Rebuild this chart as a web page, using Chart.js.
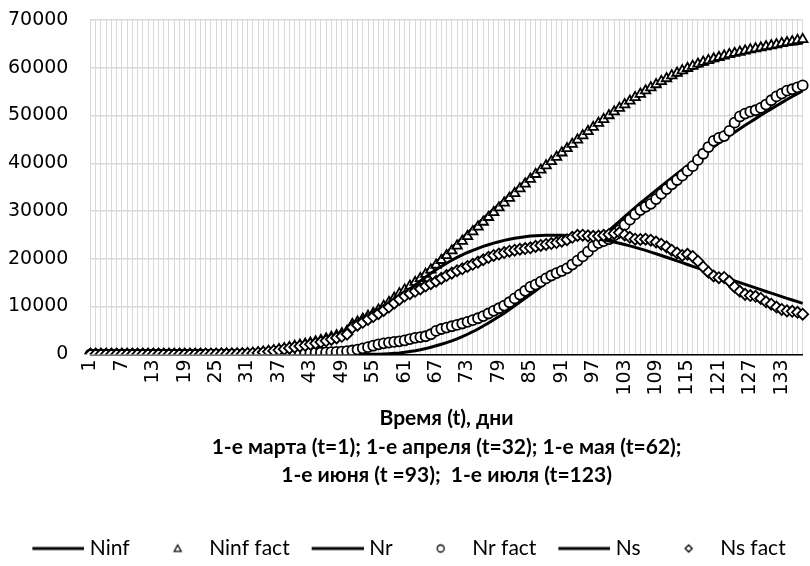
<!DOCTYPE html>
<html lang="ru">
<head>
<meta charset="UTF-8">
<title>Ninf / Nr / Ns</title>
<style>
    body, html {
        margin: 0;
        padding: 0;
        background: #fff;
        overflow: hidden;
    }
    .chart-box {
        width: 810px;
        height: 566px;
        position: relative;
    }
</style>
</head>
<body>
<div class="chart-box">
    <canvas id="myChart"></canvas>
</div>

<script src="https://cdn.jsdelivr.net/npm/chart.js"></script>
<script>

// дни с 1 марта (t=1)
const days = Array.from({ length: 137 }, (_, i) => i + 1);

const yTicks = [0, 10000, 20000, 30000, 40000, 50000, 60000, 70000];

// модельные кривые
const ninf = [
    0, 0, 0, 0, 0, 0, 0, 0, 0, 0,
    0, 0, 0, 0, 0, 0, 0, 0, 0, 0,
    0, 0, 0, 0, 0, 0, 0, 0, 10, 20,
    40, 70, 110, 160, 230, 320, 430, 570, 740, 940,
    1170, 1430, 1720, 2040, 2400, 2800, 3240, 3720, 4240, 4800,
    5400, 6040, 6720, 7440, 8180, 8960, 9760, 10600, 11470, 12370,
    13300, 14250, 15220, 16210, 17210, 18220, 19240, 20260, 21280, 22300,
    23330, 24360, 25380, 26390, 27390, 28400, 29400, 30390, 31370, 32340,
    33320, 34290, 35250, 36200, 37140, 38070, 38990, 39900, 40800, 41690,
    42570, 43440, 44300, 45150, 45980, 46800, 47610, 48400, 49180, 49940,
    50690, 51420, 52140, 52840, 53520, 54190, 54840, 55470, 56080, 56670,
    57320, 57850, 58360, 58850, 59320, 59770, 60200, 60610, 61000, 61370,
    61720, 62050, 62360, 62650, 62920, 63180, 63420, 63650, 63860, 64060,
    64250, 64430, 64600, 64760, 64910, 65050, 65180
];

const nr = [
    0, 0, 0, 0, 0, 0, 0, 0, 0, 0,
    0, 0, 0, 0, 0, 0, 0, 0, 0, 0,
    0, 0, 0, 0, 0, 0, 0, 0, 0, 0,
    0, 0, 0, 0, 0, 0, 0, 0, 0, 0,
    0, 0, 0, 0, 0, 0, 0, 0, 0, 0,
    0, 0, 0, 0, 0, 30, 70, 130, 210, 300,
    420, 570, 740, 950, 1200, 1480, 1780, 2100, 2440, 2800,
    3240, 3700, 4200, 4730, 5300, 5930, 6570, 7230, 7910, 8600,
    9370, 10150, 10930, 11720, 12510, 13300, 14170, 15050, 15920, 16800,
    17700, 18600, 19500, 20400, 21300, 22220, 23140, 24060, 24980, 25900,
    26880, 27850, 28810, 29760, 30700, 31630, 32550, 33450, 34340, 35220,
    36090, 36950, 37800, 38640, 39470, 40290, 41100, 41900, 42690, 43470,
    44240, 45000, 45750, 46490, 47220, 47940, 48650, 49350, 50040, 50720,
    51390, 52050, 52700, 53340, 53970, 54590, 55200
];

const ns = [
    0, 0, 0, 0, 0, 0, 0, 0, 0, 0,
    0, 0, 0, 0, 0, 0, 0, 0, 0, 0,
    0, 0, 0, 0, 0, 0, 0, 0, 10, 20,
    40, 70, 110, 160, 220, 310, 420, 550, 710, 900,
    1110, 1350, 1620, 1920, 2260, 2640, 3060, 3510, 3990, 4600,
    5200, 5850, 6500, 7150, 7800, 8600, 9450, 10300, 11150, 12000,
    12850, 13700, 14550, 15380, 16200, 16980, 17720, 18420, 19080, 19700,
    20280, 20820, 21320, 21780, 22200, 22590, 22950, 23280, 23580, 23850,
    24090, 24300, 24480, 24630, 24750, 24840, 24900, 24940, 24950, 24940,
    24910, 24860, 24790, 24700, 24590, 24460, 24310, 24140, 23950, 23740,
    23510, 23260, 22990, 22700, 22400, 22080, 21750, 21410, 21060, 20700,
    20330, 19950, 19570, 19190, 18810, 18430, 18050, 17670, 17290, 16910,
    16530, 16150, 15770, 15390, 15010, 14640, 14270, 13900, 13530, 13160,
    12800, 12440, 12080, 11720, 11370, 11020, 10670
];

// фактические данные
const ninfFact = [
    0, 0, 0, 0, 0, 0, 0, 0, 0, 0,
    0, 0, 0, 0, 0, 1, 2, 3, 5, 8,
    10, 13, 17, 22, 28, 35, 45, 57, 72, 90,
    150, 220, 320, 450, 620, 800, 1000, 1220, 1460, 1720,
    1950, 2150, 2400, 2650, 2950, 3250, 3600, 3950, 4350, 4850,
    6300, 6800, 7400, 8000, 8600, 9300, 10100, 10900, 11800, 12700,
    13500, 14300, 15100, 15900, 16800, 17700, 18700, 19700, 20700, 21700,
    22700, 23700, 24700, 25700, 26700, 27700, 28700, 29700, 30700, 31700,
    32700, 33700, 34700, 35700, 36700, 37700, 38600, 39500, 40400, 41300,
    42200, 43100, 44000, 44900, 45800, 46700, 47550, 48400, 49200, 50000,
    50800, 51550, 52300, 53050, 53800, 54500, 55200, 55850, 56500, 57150,
    57750, 58350, 58900, 59400, 59900, 60350, 60800, 61200, 61550, 61900,
    62200, 62500, 62800, 63050, 63300, 63550, 63800, 64000, 64200, 64450,
    64650, 64850, 65100, 65300, 65500, 65750, 65950
];

const nrFact = [
    0, 0, 0, 0, 0, 0, 0, 0, 0, 0,
    0, 0, 0, 0, 0, 0, 0, 0, 0, 0,
    0, 0, 0, 0, 0, 0, 0, 0, 0, 0,
    0, 0, 0, 0, 50, 100, 120, 150, 180, 210,
    240, 270, 300, 340, 380, 420, 470, 520, 580, 650,
    800, 1000, 1250, 1500, 1800, 2100, 2300, 2450, 2600, 2730,
    2900, 3200, 3450, 3600, 3780, 4200, 4900, 5300, 5600, 5880,
    6150, 6450, 6800, 7150, 7550, 8000, 8550, 9100, 9650, 10200,
    10900, 11700, 12500, 13300, 14100, 14600, 15200, 15900, 16500, 17000,
    17450, 18000, 18800, 19600, 20500, 21500, 22600, 23300, 23700, 24100,
    24900, 26000, 27100, 28200, 29300, 30200, 30900, 31500, 32500, 33600,
    34600, 35600, 36500, 37400, 38400, 39400, 40700, 42000, 43400, 44700,
    45300, 45700, 46800, 48500, 49800, 50400, 50800, 51100, 51600, 52300,
    53200, 54000, 54600, 55200, 55500, 55900, 56300
];

const nsFact = [
    0, 0, 0, 0, 0, 0, 0, 0, 0, 0,
    0, 0, 0, 0, 0, 1, 2, 3, 5, 8,
    10, 13, 17, 22, 28, 35, 45, 57, 72, 90,
    150, 220, 310, 430, 570, 700, 880, 1070, 1280, 1510,
    1710, 1880, 2100, 2310, 2570, 2830, 3130, 3430, 3770, 4200,
    5600, 6100, 6700, 7300, 7900, 8500, 9200, 9900, 10700, 11500,
    12200, 12700, 13200, 13700, 14300, 14800, 15300, 15900, 16500, 17000,
    17500, 17900, 18400, 18850, 19300, 19800, 20300, 20700, 21000, 21300,
    21600, 21800, 22000, 22150, 22300, 22600, 22800, 23000, 23200, 23400,
    23700, 24000, 24500, 24900, 24950, 24800, 24700, 24750, 24900, 25100,
    25300, 25500, 25000, 24500, 24100, 24050, 24100, 23900, 23500, 23050,
    22500, 21800, 21200, 20700, 20950, 20500, 19500, 18300, 17200, 16400,
    16050, 16100, 15300, 14100, 13200, 12550, 12300, 12150, 11700, 11000,
    10500, 9900, 9400, 9100, 9000, 8800, 8400
];

const seriesNames = ['Ninf', 'Ninf fact', 'Nr', 'Nr fact', 'Ns', 'Ns fact'];

const axisTitle = [
    'Время (t), дни',
    '1-е марта (t=1); 1-е апреля (t=32); 1-е мая (t=62);',
    '1-е июня (t =93);  1-е июля (t=123)'
];

// значок для легенды (ключ ~52px как в Excel)
function legendIcon(kind) {
    const c = document.createElement('canvas');
    c.width = 57;
    c.height = 12;
    const g = c.getContext('2d');
    g.strokeStyle = '#000';
    g.fillStyle = '#fff';
    if (kind === 'line') {
        g.lineWidth = 3;
        g.beginPath();
        g.moveTo(5, 6);
        g.lineTo(57, 6);
        g.stroke();
        return c;
    }
    const cx = 31, cy = 6, r = 3.5;
    g.lineWidth = 1.3;
    g.beginPath();
    if (kind === 'triangle') {
        g.moveTo(cx, cy - r);
        g.lineTo(cx + r, cy + r * 0.8);
        g.lineTo(cx - r, cy + r * 0.8);
        g.closePath();
    } else if (kind === 'circle') {
        g.arc(cx, cy, r, 0, Math.PI * 2);
    } else {
        g.moveTo(cx, cy - r);
        g.lineTo(cx + r, cy);
        g.lineTo(cx, cy + r);
        g.lineTo(cx - r, cy);
        g.closePath();
    }
    g.fill();
    g.stroke();
    return c;
}

const icons = [
    legendIcon('line'), legendIcon('triangle'),
    legendIcon('line'), legendIcon('circle'),
    legendIcon('line'), legendIcon('diamond')
];

function lineSet(label, values, order) {
    return {
        label: label,
        data: values,
        borderColor: '#000',
        borderWidth: 3,
        pointRadius: 0,
        fill: false,
        tension: 0,
        order: order
    };
}

function markSet(label, values, style, radius, order) {
    return {
        label: label,
        data: values,
        showLine: false,
        pointStyle: style,
        pointRadius: radius,
        pointBorderWidth: 1.8,
        pointBackgroundColor: '#fff',
        pointBorderColor: '#000',
        borderColor: '#000',
        order: order
    };
}

const ctx = document.getElementById('myChart').getContext('2d');
const myChart = new Chart(ctx, {
    type: 'line',
    data: {
        labels: days,
        datasets: [
            lineSet(seriesNames[0], ninf, 6),
            markSet(seriesNames[1], ninfFact, 'triangle', 5.5, 5),
            lineSet(seriesNames[2], nr, 4),
            markSet(seriesNames[3], nrFact, 'circle', 5, 3),
            lineSet(seriesNames[4], ns, 2),
            markSet(seriesNames[5], nsFact, 'rectRot', 5.5, 1)
        ]
    },
    options: {
        responsive: true,
        maintainAspectRatio: false,
        animation: false,
        layout: {
            padding: { left: 8, right: 0, top: 20, bottom: -3 }
        },
        scales: {
            x: {
                afterFit: function (scale) {
                    // график в оригинале обрезан справа
                    scale.paddingRight = 0;
                    scale.paddingLeft = 0;
                },
                grid: {
                    color: '#d9d9d9',
                    lineWidth: 1,
                    drawTicks: false
                },
                border: { color: '#000', width: 1.5 },
                ticks: {
                    autoSkip: false,
                    minRotation: 90,
                    maxRotation: 90,
                    padding: 5,
                    color: '#000',
                    font: { family: 'DejaVu Sans', size: 19 },
                    callback: function (value, index) {
                        return index % 6 === 0 ? String(days[index]) : '';
                    }
                },
                title: {
                    display: true,
                    text: axisTitle,
                    color: '#000',
                    font: { family: 'Lato', size: 21, weight: 'bold', lineHeight: 1.34 },
                    padding: { top: 4, bottom: 27 }
                }
            },
            y: {
                min: 0,
                max: 70000,
                afterFit: function (scale) {
                    scale.paddingTop = 0;
                    scale.paddingBottom = 0;
                    // отступ подписи считается дважды — убираем лишний слева
                    scale.width -= 22;
                },
                grid: {
                    color: '#d9d9d9',
                    lineWidth: 1.5,
                    drawTicks: false
                },
                border: { display: false },
                afterBuildTicks: function (axis) {
                    axis.ticks = yTicks.map(v => ({ value: v }));
                },
                ticks: {
                    padding: 22,
                    color: '#000',
                    font: { family: 'DejaVu Sans', size: 19 },
                    callback: v => String(v)
                }
            }
        },
        plugins: {
            tooltip: { enabled: false },
            legend: {
                position: 'bottom',
                labels: {
                    usePointStyle: true,
                    pointStyleWidth: 47,
                    padding: 22,
                    color: '#000',
                    font: { family: 'Lato', size: 21 },
                    sort: (a, b) => a.datasetIndex - b.datasetIndex,
                    generateLabels: function (chart) {
                        return chart.data.datasets.map((ds, i) => ({
                            text: ds.label,
                            pointStyle: icons[i],
                            fillStyle: '#fff',
                            strokeStyle: '#000',
                            lineWidth: 0,
                            hidden: false,
                            fontColor: '#000',
                            datasetIndex: i
                        }));
                    }
                }
            }
        }
    }
});

</script>
</body>
</html>
